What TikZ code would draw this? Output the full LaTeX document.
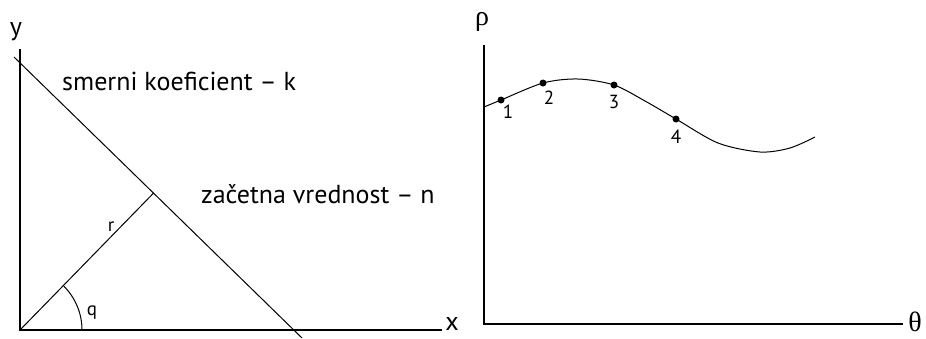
\documentclass[tikz,border=0pt]{standalone}
\usepackage{fontspec}
\setmainfont{PT Sans}
\newfontfamily\grk{Liberation Serif}
\usetikzlibrary{calc}
\begin{document}
\begin{tikzpicture}[x=1pt,y=-1pt,
  axis/.style={line width=2.6pt},
  thin/.style={line width=1pt},
  lbl/.style={font=\fontsize{26}{28}\selectfont,inner sep=0pt,anchor=base west},
  sml/.style={font=\fontsize{19}{21}\selectfont,inner sep=0pt},
  dot/.style={circle,fill=black,inner sep=0pt,minimum size=7pt}]
\useasboundingbox (0,0) rectangle (926,338);
\coordinate (o) at (20,330);
\coordinate (yt) at (20,49);
\coordinate (xe) at (442,330);
\coordinate (la) at (14,57);
\coordinate (lb) at (302,338);
\coordinate (ft) at ($(la)!(o)!(lb)$);
\draw[axis] (yt) -- (o) -- (xe);
\draw[thin] (la) -- (lb);
\draw[thin] (o) -- (ft);
\draw[thin] (82,330) arc[start angle=0,end angle=-45,radius=62];
\node[lbl,anchor=base] (ly) at (16,35) {y};
\node[lbl,anchor=base] (lx) at (452,330) {x};
\node[lbl] (sk) at (62,90) {smerni koeficient -- k};
\node[lbl] (zn) at (201,203) {začetna vrednost -- n};
\node[sml,anchor=base] (lr) at (111,231) {r};
\node[sml,anchor=base] (lq) at (92,315) {q};
\coordinate (po) at (484,324);
\coordinate (pt) at (484,45);
\coordinate (pe) at (903,324);
\draw[axis] (pt) -- (po) -- (pe);
\node[font=\grk\fontsize{28}{30}\selectfont,inner sep=0pt,anchor=base] (rho) at (482,25) {ρ};
\node[font=\grk\fontsize{28}{30}\selectfont,inner sep=0pt] (th) at (915,322) {θ};
\coordinate (c0) at (484,107);
\coordinate (p1) at (501,100);
\coordinate (p2) at (543,83);
\coordinate (p3) at (614,85);
\coordinate (p4) at (676,119);
\coordinate (ce) at (815,137);
\draw[thin] plot[smooth] coordinates {(c0) (p1) (p2) (578,79) (p3) (645,101) (p4) (718,143) (760,152) (790,148) (ce)};
\foreach \p/\t/\x/\y in {p1/1/508/112,p2/2/549/98,p3/3/614/102,p4/4/676/137} {
  \node[dot] at (\p) {};
  \node[sml] (n\t) at (\x,\y) {\t};
}
\end{tikzpicture}
\end{document}
